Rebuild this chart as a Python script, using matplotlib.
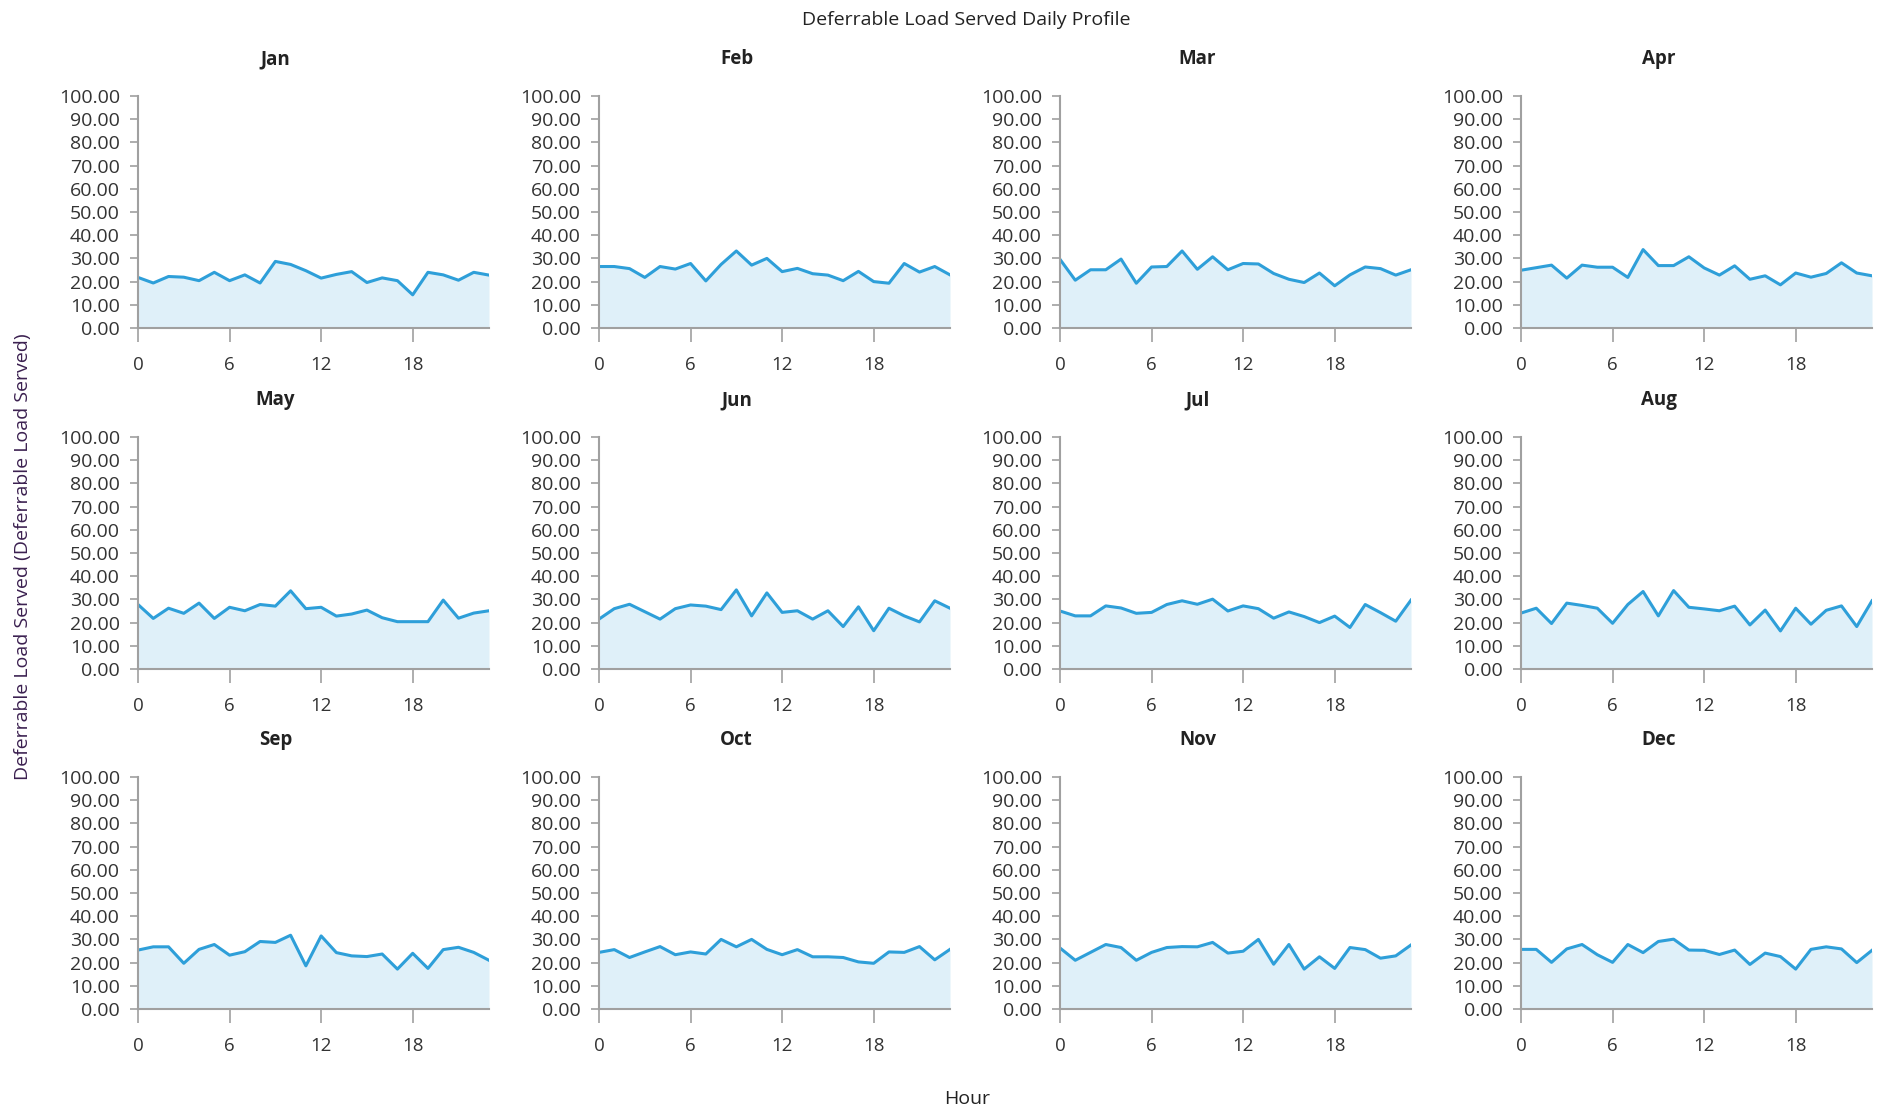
import numpy as np
import matplotlib
matplotlib.use("Agg")
from matplotlib import pyplot as plt
from matplotlib.ticker import FormatStrFormatter

plt.rcParams['font.family'] = ['Open Sans', 'DejaVu Sans']

months = ["Jan", "Feb", "Mar", "Apr", "May", "Jun",
          "Jul", "Aug", "Sep", "Oct", "Nov", "Dec"]
hours = np.arange(24)

# hourly deferrable load served, one list per month
jan = [21.8, 19.4, 22.2, 21.9, 20.4, 24.0, 20.4, 22.9, 19.4, 28.7, 27.4, 24.7,
       21.5, 23.1, 24.3, 19.6, 21.6, 20.4, 14.3, 24.0, 22.9, 20.6, 24.0, 22.8]
feb = [26.5, 26.5, 25.6, 21.8, 26.5, 25.4, 27.8, 20.3, 27.4, 33.2, 27.1, 30.0,
       24.3, 25.7, 23.4, 22.8, 20.4, 24.4, 20.0, 19.3, 27.8, 24.1, 26.5, 22.9]
mar = [29.6, 20.6, 25.1, 25.1, 29.7, 19.3, 26.3, 26.5, 33.2, 25.3, 30.7, 25.1,
       27.8, 27.6, 23.5, 21.0, 19.6, 23.7, 18.2, 22.9, 26.3, 25.6, 22.8, 25.1]
apr = [24.9, 26.0, 27.1, 21.5, 27.1, 26.2, 26.2, 21.8, 33.8, 26.9, 26.9, 30.7,
       25.9, 22.8, 26.8, 21.0, 22.5, 18.6, 23.7, 21.9, 23.5, 28.1, 23.7, 22.5]
may = [27.8, 21.8, 26.2, 24.0, 28.4, 21.8, 26.6, 25.1, 27.8, 27.1, 33.7, 26.0,
       26.6, 22.8, 23.7, 25.4, 22.1, 20.4, 20.4, 20.4, 29.7, 21.9, 24.1, 25.1]
jun = [21.5, 26.0, 27.9, 24.7, 21.5, 26.0, 27.6, 27.1, 25.6, 34.1, 22.9, 32.8,
       24.4, 25.1, 21.5, 25.1, 18.3, 26.8, 16.5, 26.2, 22.9, 20.3, 29.4, 26.2]
jul = [25.0, 22.9, 22.9, 27.2, 26.3, 24.0, 24.4, 27.8, 29.4, 27.9, 30.1, 25.0,
       27.2, 26.0, 21.9, 24.6, 22.6, 20.0, 22.8, 17.9, 27.8, 24.3, 20.6, 29.7]
aug = [24.1, 26.2, 19.6, 28.4, 27.4, 26.2, 19.7, 27.8, 33.4, 22.9, 33.8, 26.6,
       25.9, 25.1, 27.1, 19.0, 25.4, 16.4, 26.2, 19.3, 25.3, 27.2, 18.3, 29.4]
sep = [25.4, 26.8, 26.8, 19.7, 25.7, 27.8, 23.2, 24.7, 29.1, 28.7, 31.8, 18.6,
       31.5, 24.3, 22.9, 22.6, 23.7, 17.2, 24.0, 17.5, 25.6, 26.6, 24.4, 21.0]
oct_ = [24.4, 25.6, 22.2, 24.6, 26.9, 23.4, 24.6, 23.7, 30.0, 26.8, 30.0, 25.7,
        23.4, 25.6, 22.5, 22.5, 22.2, 20.3, 19.7, 24.6, 24.4, 26.9, 21.2, 25.7]
nov = [26.3, 21.0, 24.4, 27.8, 26.5, 21.0, 24.4, 26.5, 26.9, 26.8, 28.7, 24.1,
       24.9, 30.0, 19.3, 27.8, 17.2, 22.5, 17.5, 26.5, 25.6, 21.9, 22.9, 27.6]
dec = [25.7, 25.7, 20.1, 25.9, 27.8, 23.4, 20.1, 27.8, 24.3, 29.1, 30.1, 25.4,
       25.3, 23.5, 25.4, 19.2, 24.1, 22.6, 17.2, 25.7, 26.8, 25.9, 20.0, 25.3]

series = [jan, feb, mar, apr, may, jun, jul, aug, sep, oct_, nov, dec]

line_col = "#2E9FD9"
fill_col = "#DFF0F9"
axis_col = "#A0A0A0"
text_col = "#333333"

W, H = 1878, 1115
fig = plt.figure(figsize=(W / 100, H / 100), dpi=100)

lefts = [138, 599, 1060, 1521]
width = 351
tops = [96, 437, 777]
height = 232
title_y = [59, 400, 740]

for k, (name, vals) in enumerate(zip(months, series)):
    r, c = divmod(k, 4)
    ax = fig.add_axes([lefts[c] / W, 1 - (tops[r] + height) / H, width / W, height / H])
    ax.fill_between(hours, vals, 0, color=fill_col, lw=0)
    ax.plot(hours, vals, color=line_col, lw=2.2)
    ax.set_xlim(0, 23)
    ax.set_ylim(0, 100)
    ax.set_xticks([0, 6, 12, 18])
    ax.set_yticks(np.arange(0, 101, 10))
    ax.yaxis.set_major_formatter(FormatStrFormatter("%.2f"))
    for s in ["top", "right"]:
        ax.spines[s].set_visible(False)
    for s in ["left", "bottom"]:
        ax.spines[s].set_color(axis_col)
        ax.spines[s].set_linewidth(1.5)
    ax.tick_params(axis="y", colors=axis_col, labelcolor=text_col, labelsize=14,
                   length=6, width=1.2, pad=7)
    ax.tick_params(axis="x", colors=axis_col, labelcolor=text_col, labelsize=13.5,
                   length=10, width=1.2, pad=10)
    # panel title sits over the tick labels + plot area
    fig.text((lefts[c] + width / 2 - 38) / W, 1 - title_y[r] / H, name,
             ha="center", va="center", fontsize=13.5, fontweight="bold",
             color="#222222")

fig.text(0.5147, 1 - 20 / H, "Deferrable Load Served Daily Profile", ha="center",
         va="center", fontsize=14, color="#222222")
fig.text(0.515, 1 - 1099 / H, "Hour", ha="center", va="center", fontsize=14,
         color="#222222")
fig.text(23 / W, 1 - 557 / H, "Deferrable Load Served (Deferrable Load Served)",
         rotation=90, ha="center", va="center", fontsize=14, color="#3B2050")

fig.savefig("out.png", dpi=100)
